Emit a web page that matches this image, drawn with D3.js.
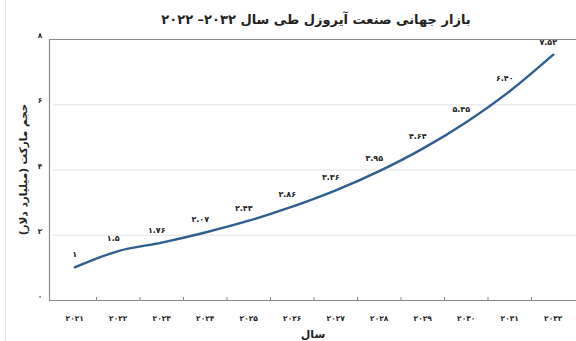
<!DOCTYPE html>
<html>
<head>
<meta charset="utf-8">
<script src="https://cdn.jsdelivr.net/npm/d3@7"></script>
<style>
  body { margin: 0; background: #fff; }
  text { font-family: "DejaVu Sans", sans-serif; font-weight: bold; fill: #222; }
</style>
</head>
<body>
<svg id="chart"></svg>
<script>
var years = ["2021","2022","2023","2024","2025","2026","2027","2028","2029","2030","2031","2032"];
var values = [1, 1.5, 1.76, 2.07, 2.43, 2.86, 3.36, 3.95, 4.64, 5.45, 6.40, 7.52];
var valueLabels = ["1", "1.5", "1.76", "2.07", "2.43", "2.86", "3.36", "3.95", "4.64", "5.45", "6.40", "7.52"];
var yTicks = [0, 2, 4, 6, 8];

var width = 576, height = 341;
var margin = {top: 39, right: 1, bottom: 41, left: 53};

// latin digits -> persian digits
var fa = function(s) {
    return String(s).replace(/[0-9]/g, function(c) { return "۰۱۲۳۴۵۶۷۸۹"[+c]; });
};

var svg = d3.select("#chart").attr("width", width).attr("height", height);

// faint page edge on the left
svg.append("line")
    .attr("x1", 5.5).attr("x2", 5.5).attr("y1", 0).attr("y2", height)
    .attr("stroke", "#dfe8f0").attr("stroke-width", 1);

var x = d3.scaleBand().domain(years).range([margin.left, width - margin.right]);
var y = d3.scaleLinear().domain([0, 8]).range([height - margin.bottom, margin.top]);

// gridlines
svg.append("g")
    .selectAll("line")
    .data(yTicks.filter(d => d > 0 && d < 8))
    .enter().append("line")
    .attr("x1", margin.left).attr("x2", width)
    .attr("y1", d => y(d) + 0.5).attr("y2", d => y(d) + 0.5)
    .attr("stroke", "#e3e3e3");

// frame
svg.append("path")
    .attr("d", "M" + width + "," + (y(8) + 0.5) + "H" + (margin.left - 3.5) + "V" + (y(0) + 0.5) + "H" + width)
    .attr("fill", "none")
    .attr("stroke", "#8a8a8a")
    .attr("stroke-width", 1.2);

// x ticks between categories
svg.append("g")
    .selectAll("line")
    .data(years.slice(1))
    .enter().append("line")
    .attr("x1", d => x(d)).attr("x2", d => x(d))
    .attr("y1", y(0)).attr("y2", y(0) - 3)
    .attr("stroke", "#8a8a8a");

// y tick labels
svg.append("g")
    .selectAll("text")
    .data(yTicks)
    .enter().append("text")
    .attr("x", 40)
    .attr("y", d => y(d) - 1)
    .attr("text-anchor", "middle")
    .style("font-size", "7.5px")
    .text(d => fa(d));

// x tick labels
svg.append("g")
    .selectAll("text")
    .data(years)
    .enter().append("text")
    .attr("x", d => x(d) + x.bandwidth() / 2)
    .attr("y", 321)
    .attr("text-anchor", "middle")
    .style("font-size", "7.5px")
    .text(d => fa(d));

// line
var line = d3.line()
    .x((d, i) => x(years[i]) + x.bandwidth() / 2)
    .y(d => y(d))
    .curve(d3.curveMonotoneX);

svg.append("path")
    .datum(values)
    .attr("d", line)
    .attr("fill", "none")
    .attr("stroke", "#2f5f8e")
    .attr("stroke-width", 2.4)
    .attr("stroke-linecap", "round");

// data labels
svg.append("g")
    .selectAll("text")
    .data(values)
    .enter().append("text")
    .attr("x", (d, i) => x(years[i]) + x.bandwidth() / 2 - (i == 0 ? 0 : 5))
    .attr("y", d => y(d) - 10)
    .attr("text-anchor", "middle")
    .style("font-size", "8px")
    .text((d, i) => fa(valueLabels[i]));

// title
svg.append("text")
    .attr("x", 316)
    .attr("y", 24)
    .attr("text-anchor", "middle")
    .attr("direction", "rtl")
    .style("font-size", "13px")
    .text("بازار جهانی صنعت آیروزل طی سال ۲۰۳۲– ۲۰۲۲");

// y axis title
svg.append("text")
    .attr("transform", "translate(27," + ((y(0) + y(8)) / 2) + ") rotate(-90)")
    .attr("text-anchor", "middle")
    .attr("direction", "rtl")
    .style("font-size", "10.5px")
    .text("حجم مارکت (میلیارد دلار)");

// x axis title
svg.append("text")
    .attr("x", 313)
    .attr("y", 338)
    .attr("text-anchor", "middle")
    .style("font-size", "11px")
    .text("سال");
</script>
</body>
</html>
